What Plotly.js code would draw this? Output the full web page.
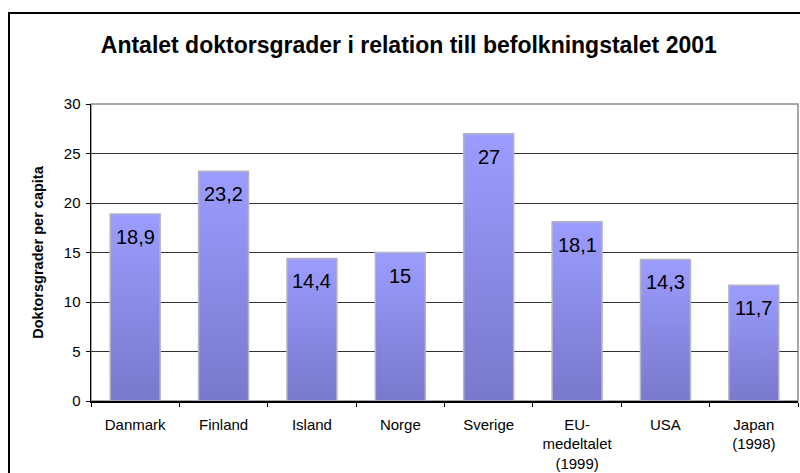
<!DOCTYPE html>
<html>
<head>
<meta charset="utf-8">
<script src="https://cdn.plot.ly/plotly-3.0.1.min.js"></script>
<style>
  html, body { margin: 0; padding: 0; background: #fff; }
  #wrap { position: relative; width: 800px; height: 473px; overflow: hidden; }
  #chart { width: 800px; height: 473px; }
  #frame { position: absolute; left: 8px; top: 12px; width: 900px; height: 600px;
           border: 2px solid #000; pointer-events: none; box-sizing: border-box; }
</style>
</head>
<body>
<div id="wrap">
  <div id="chart"></div>
  <div id="frame"></div>
</div>
<script>
const categories = ["Danmark", "Finland", "Island", "Norge", "Sverige", "EU-medeltalet (1999)", "USA", "Japan (1998)"];
const tickLabels = ["Danmark", "Finland", "Island", "Norge", "Sverige", "EU-<br>medeltalet<br>(1999)", "USA", "Japan<br>(1998)"];
const values = [18.9, 23.2, 14.4, 15, 27, 18.1, 14.3, 11.7];
const valueLabels = ["18,9", "23,2", "14,4", "15", "27", "18,1", "14,3", "11,7"];
const yTicks = [0, 5, 10, 15, 20, 25, 30];

const FONT = "Liberation Sans, Arial, sans-serif";

const trace = {
  type: "bar",
  x: categories,
  y: values,
  marker: { color: "#8a8ae6", line: { color: "#b4b4c4", width: 1.5 } },
  hoverinfo: "none"
};

const annotations = categories.map((c, i) => ({
  x: c, y: values[i], xref: "x", yref: "y",
  text: valueLabels[i], showarrow: false,
  yanchor: "middle", yshift: -23,
  font: { family: FONT, size: 20, color: "#000" }
}));

const layout = {
  width: 800, height: 473,
  margin: { l: 91, r: 2, t: 104, b: 72 },
  paper_bgcolor: "#fff", plot_bgcolor: "#fff",
  showlegend: false,
  bargap: 0.435,
  title: {
    text: "<b>Antalet doktorsgrader i relation till befolkningstalet 2001</b>",
    font: { family: FONT, size: 23, color: "#000" },
    x: 0.511, xanchor: "center", y: 0.905, yanchor: "middle"
  },
  xaxis: {
    type: "category",
    tickmode: "array", tickvals: categories, ticktext: tickLabels,
    tickfont: { family: FONT, size: 15, color: "#000" },
    showline: true, linecolor: "#000", linewidth: 1.5,
    ticks: "outside", ticklen: 4, tickcolor: "#000", tickson: "boundaries",
    ticklabelstandoff: 9,
    showgrid: false, zeroline: false, fixedrange: true
  },
  yaxis: {
    range: [0, 30], tickmode: "array", tickvals: yTicks,
    tickfont: { family: FONT, size: 15, color: "#000" },
    showline: true, linecolor: "#000", linewidth: 1.5,
    ticks: "outside", ticklen: 4, tickcolor: "#000",
    ticklabelstandoff: 2,
    showgrid: true, gridcolor: "#333", gridwidth: 1,
    zeroline: false, fixedrange: true,
    title: { text: "<b>Doktorsgrader per capita</b>", font: { family: FONT, size: 14.5, color: "#000" }, standoff: 16 }
  },
  shapes: [{
    type: "rect", xref: "paper", yref: "paper", x0: 0, x1: 1, y0: 0, y1: 1,
    line: { color: "#8c8c8c", width: 1.5 }, layer: "below"
  }],
  annotations: annotations
};

Plotly.newPlot("chart", [trace], layout, { displayModeBar: false, staticPlot: true }).then(gd => {
  const svg = gd.querySelector("svg.main-svg");
  const ns = "http://www.w3.org/2000/svg";
  let defs = svg.querySelector("defs");
  if (!defs) { defs = document.createElementNS(ns, "defs"); svg.insertBefore(defs, svg.firstChild); }
  const grad = document.createElementNS(ns, "linearGradient");
  grad.setAttribute("id", "barGrad");
  grad.setAttribute("x1", "0"); grad.setAttribute("y1", "0");
  grad.setAttribute("x2", "0"); grad.setAttribute("y2", "1");
  [["0%", "#9c9cff"], ["100%", "#7878cc"]].forEach(([o, c]) => {
    const s = document.createElementNS(ns, "stop");
    s.setAttribute("offset", o); s.setAttribute("stop-color", c);
    grad.appendChild(s);
  });
  defs.appendChild(grad);
  gd.querySelectorAll(".bars .point path").forEach(p => { p.style.fill = "url(#barGrad)"; });
});
</script>
</body>
</html>
